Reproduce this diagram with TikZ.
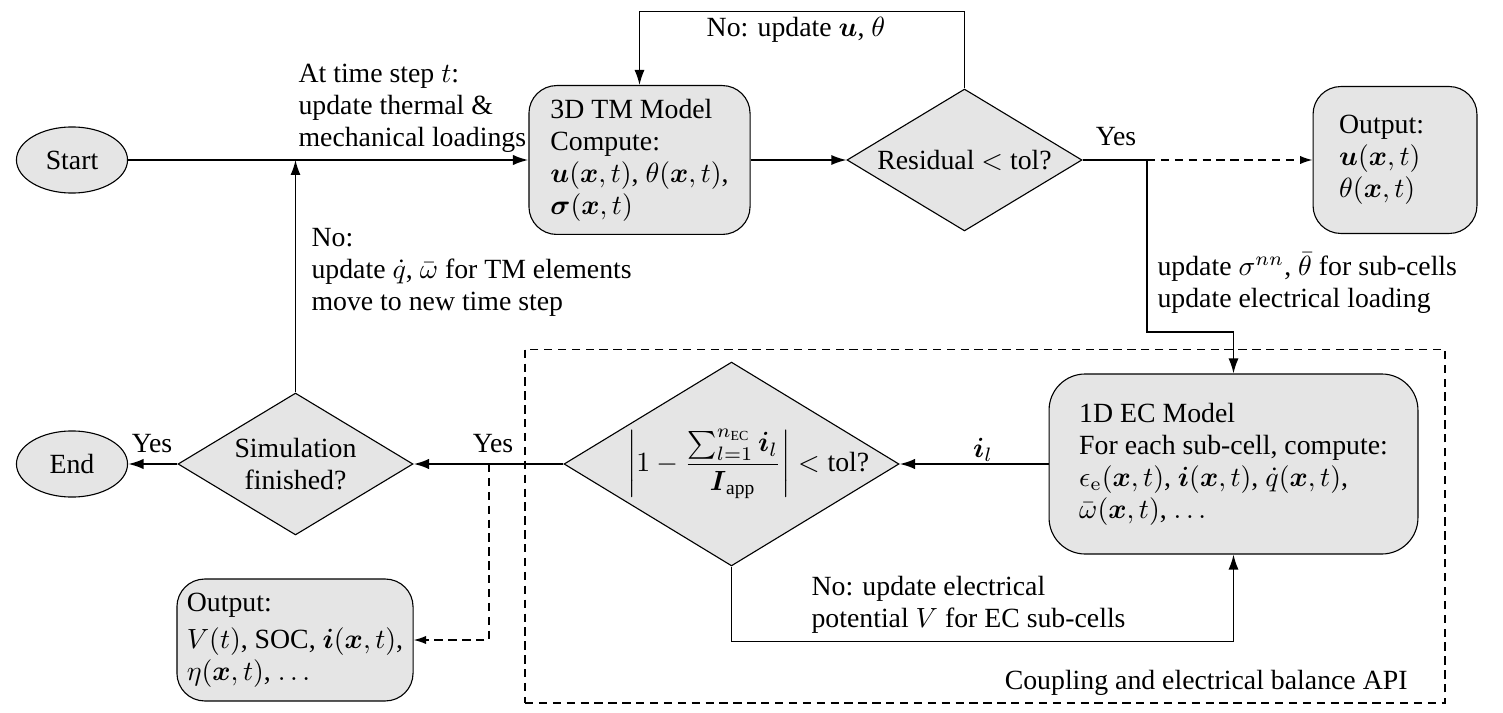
\documentclass[tikz,border=0pt]{standalone}
\usepackage[no-math]{fontspec}
\setmainfont{Liberation Serif}
\usepackage{amsmath}
\usepackage{tikz}
\usetikzlibrary{arrows.meta, shapes.geometric, positioning}
\usepackage{xcolor}

\begin{document}
\begin{tikzpicture}[
            x=0.36pt, y=-0.36pt,
            font=\fontsize{10}{11.5}\selectfont,
            terminal/.style = {ellipse, draw, fill=gray!20, minimum width=40pt, minimum height=23.8pt, inner sep=0pt},
            block/.style = {rectangle, rounded corners=10pt, draw, fill=gray!20, align=left, inner sep=2pt},
            decision/.style = {diamond, draw, fill=gray!20, align=center, inner sep=0pt, shape aspect=1.65},
            txt/.style = {inner sep=0pt, align=left},
            line/.style = {line width=0.5pt},
            arrow/.style = {-{Latex[width=3.6pt, length=5.4pt]}, line width=0.5pt},
            flow/.style = {-{Latex[width=3.8pt, length=5.6pt]}, thick},
            dasharrow/.style = {-{Latex[width=3pt, length=4.5pt]}, line width=0.5pt, densely dashed}]
            \useasboundingbox (0,0) rectangle (1503,713);
            % nodes
            \node [terminal] (start) at (72,160) {Start};
            \node [block, minimum width=79.6pt, minimum height=53.6pt] (tm) at (639.5,160)
                {3D TM Model\\ Compute:\\ $\boldsymbol{u}(\boldsymbol{x},t)$, $\theta(\boldsymbol{x},t)$,\\ $\boldsymbol{\sigma}(\boldsymbol{x},t)$};
            \node [decision, minimum width=84.6pt, minimum height=51.1pt] (resid) at (964.5,160) {Residual $<$ tol?};
            \node [block, minimum width=59pt, minimum height=52.9pt, text width=40.2pt, inner xsep=9.4pt] (outa) at (1395,160)
                {Output:\\ $\boldsymbol{u}(\boldsymbol{x},t)$\\ $\theta(\boldsymbol{x},t)$};
            \node [block, rounded corners=13pt, minimum width=132.8pt, minimum height=64.8pt] (ec) at (1233.5,464)
                {1D EC Model\\ For each sub-cell, compute:\\ $\epsilon_{\mathrm{e}}(\boldsymbol{x},t)$, $\boldsymbol{i}(\boldsymbol{x},t)$, $\dot{q}(\boldsymbol{x},t)$,\\ $\bar{\omega}(\boldsymbol{x},t)$, $\ldots$};
            \node [decision, minimum width=120.6pt, minimum height=73.4pt, inner xsep=-18pt, inner ysep=-3pt] (bal) at (731.5,464)
                {\hspace*{12pt}$\left|1-\dfrac{\sum_{l=1}^{n_{\text{EC}}}\boldsymbol{i}_l}{\boldsymbol{I}_{\text{app}}}\right|<\text{tol?}$};
            \node [decision, minimum width=84.6pt, minimum height=51.1pt] (sim) at (295.5,464) {Simulation\\ finished?};
            \node [terminal] (end) at (72,464) {End};
            \node [block, minimum width=85pt, minimum height=43.9pt, inner xsep=2.5pt] (outb) at (295,640)
                {Output:\\[2pt] $V(t)$, SOC, $\boldsymbol{i}(\boldsymbol{x},t)$,\\ $\eta(\boldsymbol{x},t)$, $\ldots$};
            \node [draw, densely dashed, line width=0.4pt, minimum width=331.2pt, minimum height=127.4pt] (api) at (985,526) {};
            \coordinate (yesr) at (1147,160);
            \coordinate (yesb) at (489,464);
            % Connections
            \draw [flow] (start) -- (tm);
            \draw [arrow] (sim.north) -- (sim.north |- start.east);
            \draw [arrow] (tm) -- (resid);
            \draw [arrow] (resid.north) -- ++(0,-77) -| (tm.north);
            \draw [line] (resid.east) -- (yesr);
            \draw [dasharrow] (yesr) -- (outa.west);
            \draw [arrow] (yesr) -- ++(0,172) -| (ec.north);
            \draw [flow] (ec) -- (bal);
            \draw [arrow] (bal.south) -- ++(0,75) -| (ec.south);
            \draw [flow] (bal) -- (sim);
            \draw [flow] (sim) -- (end);
            \draw [dasharrow] (yesb) |- (outb.east);
            % Text
            \node [txt, anchor=west] (txt_step) at (298,108) {At time step $t$:\\ update thermal \&\\ mechanical loadings};
            \node [txt, anchor=west] (txt_next) at (311,272) {No:\\ update $\dot{q}$, $\bar{\omega}$ for TM elements\\ move to new time step};
            \node [txt] (txt_iter) at (796,30) {No: update $\boldsymbol{u}$, $\theta$};
            \node [txt] (txt_yesr) at (1116,137) {Yes};
            \node [txt, anchor=west] (txt_coup) at (1157,283) {update $\sigma^{nn}$, $\bar{\theta}$ for sub-cells\\ update electrical loading};
            \node [txt] (txt_il) at (983,450) {$\boldsymbol{i}_l$};
            \node [txt, anchor=west] (txt_pot) at (811,605) {No: update electrical\\ potential $V$ for EC sub-cells};
            \node [txt] (txt_yesb) at (493,444) {Yes};
            \node [txt] (txt_yese) at (152,444) {Yes};
            \node [txt, anchor=east] (txt_api) at (1408,683) {Coupling and electrical balance API};
        \end{tikzpicture}
\end{document}
